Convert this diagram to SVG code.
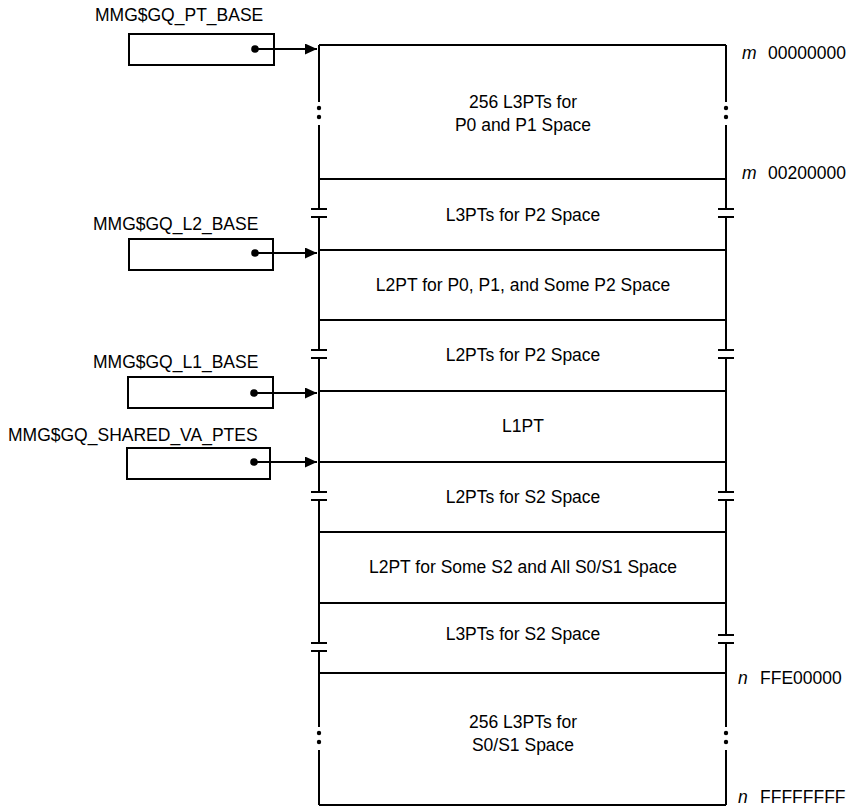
<svg xmlns="http://www.w3.org/2000/svg" width="849" height="808" viewBox="0 0 849 808">
<style>
  text { font-family: "Liberation Sans", Arial, Helvetica, sans-serif; font-size: 17.5px; fill: #000; }
  .c { text-anchor: middle; }
  .it { font-style: italic; }
  .ln { stroke: #000; stroke-width: 2; fill: none; }
  .box { stroke: #000; stroke-width: 2; fill: #fff; }
  .dot { fill: #000; }
</style>
<defs>
  <marker id="ah" markerUnits="userSpaceOnUse" markerWidth="13" markerHeight="11" refX="12" refY="5.5" orient="auto">
    <path d="M0,0 L12,5.5 L0,11 z" fill="#000"/>
  </marker>
  <marker id="ds" markerUnits="userSpaceOnUse" markerWidth="9" markerHeight="9" refX="4.5" refY="4.5" orient="auto">
    <circle cx="4.5" cy="4.5" r="3.8" fill="#000"/>
  </marker>
</defs>
<rect width="849" height="808" fill="#fff"/>

<!-- memory column -->
<g id="column">
  <path class="ln" d="M319,45 H726 M319,179 H726 M319,250 H726 M319,320 H726 M319,391 H726 M319,462 H726 M319,532 H726 M319,603 H726 M319,673 H726 M319,805 H726"/>
  <!-- left side -->
  <path class="ln" d="M319,45 V102 M319,125 V209 M311,209 H327 M311,217 H327 M319,217 V350 M311,350 H327 M311,358 H327 M319,358 V492 M311,492 H327 M311,500 H327 M319,500 V643 M311,643 H327 M311,651 H327 M319,651 V727 M319,750 V805"/>
  <!-- right side -->
  <path class="ln" d="M726,45 V102 M726,125 V209 M718,209 H734 M718,217 H734 M726,217 V350 M718,350 H734 M718,358 H734 M726,358 V492 M718,492 H734 M718,500 H734 M726,500 V635 M718,635 H734 M718,643 H734 M726,643 V727 M726,750 V805"/>
  <circle class="dot" cx="319" cy="108" r="2.2"/>
  <circle class="dot" cx="319" cy="117" r="2.2"/>
  <circle class="dot" cx="726" cy="108" r="2.2"/>
  <circle class="dot" cx="726" cy="117" r="2.2"/>
  <circle class="dot" cx="319" cy="733" r="2.2"/>
  <circle class="dot" cx="319" cy="742" r="2.2"/>
  <circle class="dot" cx="726" cy="733" r="2.2"/>
  <circle class="dot" cx="726" cy="742" r="2.2"/>
</g>

<g id="row1">
  <text class="c" x="523" y="108">256 L3PTs for</text>
  <text class="c" x="523" y="131">P0 and P1 Space</text>
</g>
<g id="row2"><text class="c" x="523" y="221">L3PTs for P2 Space</text></g>
<g id="row3"><text class="c" x="523" y="291">L2PT for P0, P1, and Some P2 Space</text></g>
<g id="row4"><text class="c" x="523" y="361">L2PTs for P2 Space</text></g>
<g id="row5"><text class="c" x="523" y="432">L1PT</text></g>
<g id="row6"><text class="c" x="523" y="503">L2PTs for S2 Space</text></g>
<g id="row7"><text class="c" x="523" y="573">L2PT for Some S2 and All S0/S1 Space</text></g>
<g id="row8"><text class="c" x="523" y="640">L3PTs for S2 Space</text></g>
<g id="row9">
  <text class="c" x="523" y="728">256 L3PTs for</text>
  <text class="c" x="523" y="751">S0/S1 Space</text>
</g>

<!-- address labels -->
<g id="addr-m0"><text x="742" y="59"><tspan class="it">m</tspan></text><text x="768" y="59">00000000</text></g>
<g id="addr-m2"><text x="742" y="179"><tspan class="it">m</tspan></text><text x="768" y="179">00200000</text></g>
<g id="addr-n0"><text x="738" y="684"><tspan class="it">n</tspan></text><text x="760" y="684">FFE00000</text></g>
<g id="addr-nf"><text x="738" y="803"><tspan class="it">n</tspan></text><text x="760" y="803">FFFFFFFF</text></g>

<!-- pointer cells -->
<g id="pt-base">
  <text x="95" y="21">MMG$GQ_PT_BASE</text>
  <rect class="box" x="129" y="34" width="145" height="31"/>
</g>
<g id="l2-base">
  <text x="93" y="230">MMG$GQ_L2_BASE</text>
  <rect class="box" x="129" y="239" width="144" height="31"/>
</g>
<g id="l1-base">
  <text x="93" y="368">MMG$GQ_L1_BASE</text>
  <rect class="box" x="128" y="377" width="145" height="31"/>
</g>
<g id="shared-va-ptes">
  <text x="8" y="441">MMG$GQ_SHARED_VA_PTES</text>
  <rect class="box" x="127" y="448" width="143" height="31"/>
</g>

<g id="connectors">
  <line class="ln" x1="255" y1="49" x2="317" y2="49" marker-start="url(#ds)" marker-end="url(#ah)"/>
  <line class="ln" x1="255" y1="253" x2="317" y2="253" marker-start="url(#ds)" marker-end="url(#ah)"/>
  <line class="ln" x1="254" y1="393" x2="317" y2="393" marker-start="url(#ds)" marker-end="url(#ah)"/>
  <line class="ln" x1="254" y1="462" x2="317" y2="462" marker-start="url(#ds)" marker-end="url(#ah)"/>
</g>
</svg>
